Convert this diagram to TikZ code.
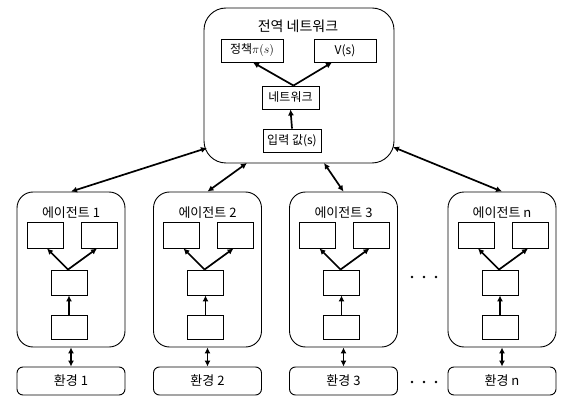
\documentclass[tikz,border=0pt]{standalone}
\usepackage{fontspec}
\setmainfont{Noto Sans CJK KR}
\usetikzlibrary{arrows.meta,calc}
\begin{document}
\begin{tikzpicture}[x=1pt,y=-1pt,
  every node/.style={font=\fontsize{13pt}{15pt}\selectfont},
  box/.style={draw,line width=0.9pt,inner sep=0pt,minimum width=36pt,minimum height=25pt},
  gbox/.style={box,minimum height=23pt,font=\fontsize{12pt}{14pt}\selectfont},
  bigbox/.style={draw,line width=0.9pt,inner sep=0pt},
  lbl/.style={inner sep=0pt,anchor=center},
  arr/.style={line width=1.7pt,-{Latex[length=6pt,width=6pt]}},
  arrtwo/.style={line width=1.7pt,{Latex[length=6pt,width=6pt]}-{Latex[length=6pt,width=6pt]}}]
\useasboundingbox (0,0) rectangle (575,406);

% global network
\node[bigbox,minimum width=190pt,minimum height=155pt,rounded corners=22pt] (global) at (299,85.5) {};
\node[lbl,font=\fontsize{14pt}{16pt}\selectfont] (gtitle) at (298,26) {전역 네트워크};
\node[gbox,minimum width=62pt] (policy) at (252,50.5) {정책$\pi(s)$};
\node[gbox,minimum width=62pt] (value) at (345,50.5) {V(s)};
\node[gbox,minimum width=57pt] (net) at (290.5,97.5) {네트워크};
\node[gbox,minimum width=58pt] (input) at (292,140.5) {입력 값(s)};
\draw[arr] ($(net.north)+(3,0)$) -- ($(policy.south)+(1,0)$);
\draw[arr] ($(net.north)+(3,0)$) -- ($(value.south)+(-13,0)$);
\draw[arr] (input.north) -- (net.south);

\coordinate (g1) at (207,148);
\coordinate (g2) at (247,163);
\coordinate (g3) at (324,163);
\coordinate (g4) at (393,147);

\foreach \i/\cx/\lab in {1/71/1,2/207.5/2,3/343.5/3,4/502/n}{
  \node[bigbox,minimum width=108pt,minimum height=155pt,rounded corners=16pt] (a\i) at (\cx,269.5) {};
  \node[lbl] (t\i) at (\cx,213) {에이전트 \lab};
  \node[box,minimum height=26pt] (tl\i) at ($(\cx,235)+(-26,0)$) {};
  \node[box,minimum height=26pt] (tr\i) at ($(\cx,235)+(28,0)$) {};
  \node[box] (m\i) at ($(\cx,282.5)+(-2,0)$) {};
  \node[box,minimum height=24pt] (b\i) at ($(\cx,327)+(-2,0)$) {};
  \draw[arr] ($(m\i.north)+(-1,0)$) -- ($(tl\i.south)+(2,0)$);
  \draw[arr] ($(m\i.north)+(-1,0)$) -- ($(tr\i.south)+(-2,0)$);
  \draw[arr] (b\i.north) -- (m\i.south);
  \node[bigbox,minimum width=108pt,minimum height=28pt,rounded corners=6pt] (e\i) at (\cx,381) {};
  \node[lbl] (et\i) at (\cx,381) {환경 \lab};
  \draw[arrtwo] (a\i.south) -- (e\i.north);
  \draw[arrtwo] (g\i) -- (a\i.north);
}

% dots
\foreach \x in {412,424,436}{
  \fill (\x,277) circle (1.3pt);
  \fill (\x,382) circle (1.3pt);
}
\end{tikzpicture}
\end{document}
